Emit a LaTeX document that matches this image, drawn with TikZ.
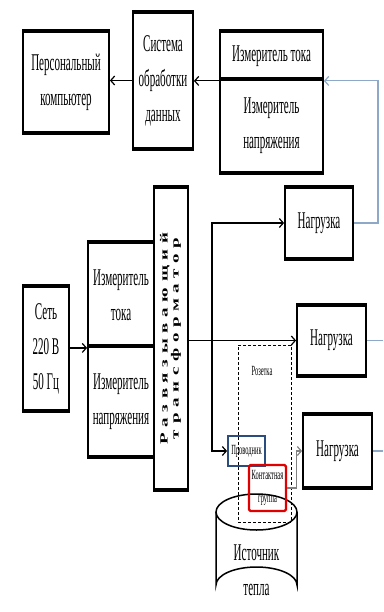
\documentclass[tikz,border=0pt]{standalone}
\usepackage{fontspec}
\setmainfont{Liberation Serif}[FakeStretch=0.46]
\newfontfamily\rotfont{Liberation Serif}[LetterSpace=30]
\usetikzlibrary{calc,arrows.meta}

\definecolor{fbblue}{HTML}{8EA9C8}
\definecolor{wireblue}{HTML}{2B4C7E}
\definecolor{grpred}{HTML}{E00000}

\tikzset{
	blk/.style={draw,line width=1.8pt,inner sep=0pt,align=center,fill=white},
	rim/.style={line width=4.5pt},
	link/.style={line width=1.2pt},
	small/.style={font=\fontsize{14}{23}\selectfont,align=center,inner sep=0pt}
}

% box given by corners: name, x1, y1, x2, y2, text
\newcommand\blocknode[6]{
		\node[blk,minimum width=(#4-#2)*1pt,minimum height=(#5-#3)*1pt] (#1) at ({(#2+#4)/2},{(#3+#5)/2}) {#6};
		\draw[rim] (#1.north west) -- (#1.north east) (#1.south west) -- (#1.south east);
	}

\begin{document}
\begin{tikzpicture}[x=1pt,y=-1pt,font=\fontsize{24}{35}\selectfont,every path/.style={>={Straight Barb[length=4pt,width=9pt]}}]
		\useasboundingbox (0,0) rectangle (383,612);

		% draw heat source
		\draw[line width=1.5pt,fill=white] (216,512) -- (216,585) arc[start angle=180,end angle=360,x radius=40.5,y radius=18] -- (297,512);
		\draw[line width=1.5pt,fill=white] (256.5,512) ellipse[x radius=40.5,y radius=18];
		\node (src) at (256.5,570) [align=center] {Источник\\тепла};

		% draw socket
		\node (sock) at (264.5,433.5) [draw,densely dashed,thin,minimum width=53pt,minimum height=177pt] {};
		\node at (262,371) [small] {Розетка};

		% draw upper part
		\blocknode{pc}{23}{32}{109}{132}{Персональный\\компьютер}
		\blocknode{sys}{133}{13}{193}{148}{Система\\обработки\\данных}
		\blocknode{mi1}{220}{32}{323}{80}{Измеритель тока}
		\blocknode{mu1}{220}{80}{323}{172}{Измеритель\\напряжения}

		% draw input side
		\blocknode{net}{23}{287}{69}{410}{Сеть\\220 В\\50 Гц}
		\blocknode{mi2}{88}{243}{154}{347}{Измеритель\\тока}
		\blocknode{mu2}{88}{347}{154}{456}{Измеритель\\напряжения}
		\blocknode{trans}{154}{188}{188}{489}{}
		\node at (trans.center) [rotate=90,inner sep=0pt]
			{\scalebox{1}[0.58]{\rotfont\bfseries\fontsize{19}{19}\selectfont\begin{tabular}{@{}c@{}}Развязывающий\\трансформатор\end{tabular}}};

		% draw loads
		\blocknode{load1}{285}{188}{353}{258}{Нагрузка}
		\blocknode{load2}{297}{306}{366}{375}{Нагрузка}
		\blocknode{load3}{303}{415}{372}{487}{Нагрузка}

		% draw wire and contact group
		\node (prov) at (246.5,451) [small,draw=wireblue,line width=1.8pt,minimum width=37pt,minimum height=30pt] {Проводник};
		\node (kg) at (267.5,488) [small,draw=grpred,line width=2.2pt,rounded corners=1.5pt,minimum width=37pt,minimum height=46pt] {Контактная\\группа};

		% draw connections
		\coordinate (bus) at (212,0);
		\coordinate (fb) at (378,0);
		\coordinate (edge) at (383,0);
		\draw[->,link] (mi1.south west) -- (sys.east |- mi1.south west);
		\draw[->,link] (sys.west) -- (sys.west -| pc.east);
		\draw[->,link] (net.east |- mi2.south west) -- (mi2.south west);
		\draw[->,link] (load2.west -| trans.east) -- (load2.west);
		\draw[<->,link] (prov.west) -- (bus |- prov.west) |- (load1.west);
		\draw[->,gray,link] (kg.east) -- ++(9,0) |- (load3.west);
		\draw[->,fbblue,link] (load1.east) -| (fb |- mi1.south east) -- (mi1.south east);
		\draw[fbblue,link] (load2.east) -- (load2.east -| edge);
		\draw[fbblue,link] (load3.east) -- (load3.east -| edge);
	\end{tikzpicture}
\end{document}
